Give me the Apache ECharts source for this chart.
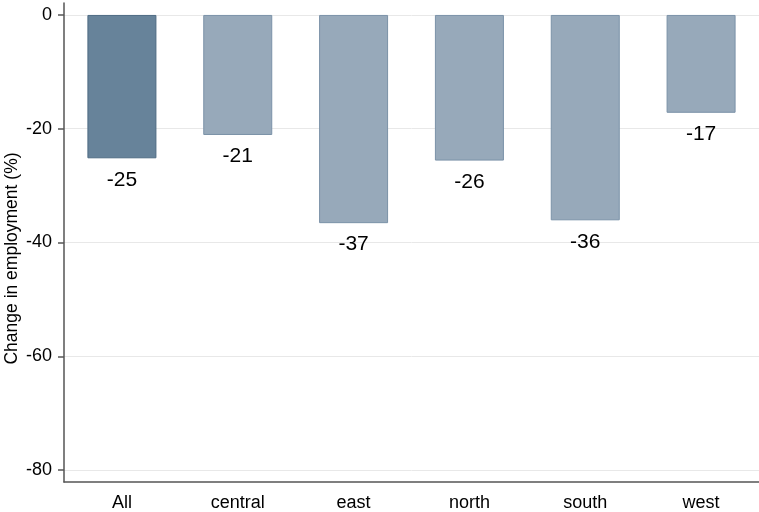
<!DOCTYPE html>
<html><head><meta charset="utf-8">
<script src="https://cdn.jsdelivr.net/npm/echarts@6/dist/echarts.min.js"></script>
<style>html,body{margin:0;padding:0;background:#fff}#c{width:759px;height:512px}</style>
</head><body><div id="c"></div>
<script>
const categories = ['All', 'central', 'east', 'north', 'south', 'west'];
const values = [-25.2, -21.1, -36.6, -25.6, -36.1, -17.2];
const yTicks = [0, -20, -40, -60, -80];

const chart = echarts.init(document.getElementById('c'));
const font = 'Liberation Sans, Arial, sans-serif';
chart.setOption({
  animation: false,
  grid: { left: 64, right: 0, top: 3, bottom: 30, containLabel: false, outerBoundsMode: 'none' },
  xAxis: {
    type: 'category', data: categories,
    axisLine: { onZero: false, lineStyle: { color: '#555', width: 1.5 } },
    axisTick: { alignWithLabel: true, length: 6, lineStyle: { color: '#555', width: 1.5 } },
    axisLabel: { color: '#000', fontSize: 18, fontFamily: font, margin: 12 },
    splitLine: { show: false }
  },
  yAxis: {
    type: 'value', min: -82.1, max: 2.1,
    name: 'Change in employment (%)', nameLocation: 'middle', nameGap: 43, nameMoveOverlap: false,
    nameTextStyle: { color: '#000', fontSize: 17.5, fontFamily: font, padding: [0, 32, 0, 0] },
    axisLine: { show: true, lineStyle: { color: '#555', width: 1.5 } },
    axisTick: { show: true, length: 6, customValues: yTicks, lineStyle: { color: '#555', width: 1.5 } },
    axisLabel: { color: '#000', fontSize: 18, fontFamily: font, margin: 12, customValues: yTicks },
    splitLine: { show: false }
  },
  series: [{
    type: 'bar',
    data: values.map((v, i) => ({
      value: v,
      itemStyle: i === 0
        ? { color: '#67839a', borderColor: '#4e6b83', borderWidth: 1 }
        : { color: '#97a9ba', borderColor: '#7b92a8', borderWidth: 1 }
    })),
    barWidth: 69,
    label: {
      show: true, position: 'bottom', distance: 11,
      color: '#000', fontSize: 21, fontFamily: font,
      formatter: p => Math.round(p.value).toString()
    },
    markLine: {
      silent: true, symbol: 'none', z: 0,
      label: { show: false },
      lineStyle: { color: '#e8e8e8', width: 1, type: 'solid' },
      data: yTicks.map(t => ({ yAxis: t }))
    }
  }]
});
</script></body></html>
